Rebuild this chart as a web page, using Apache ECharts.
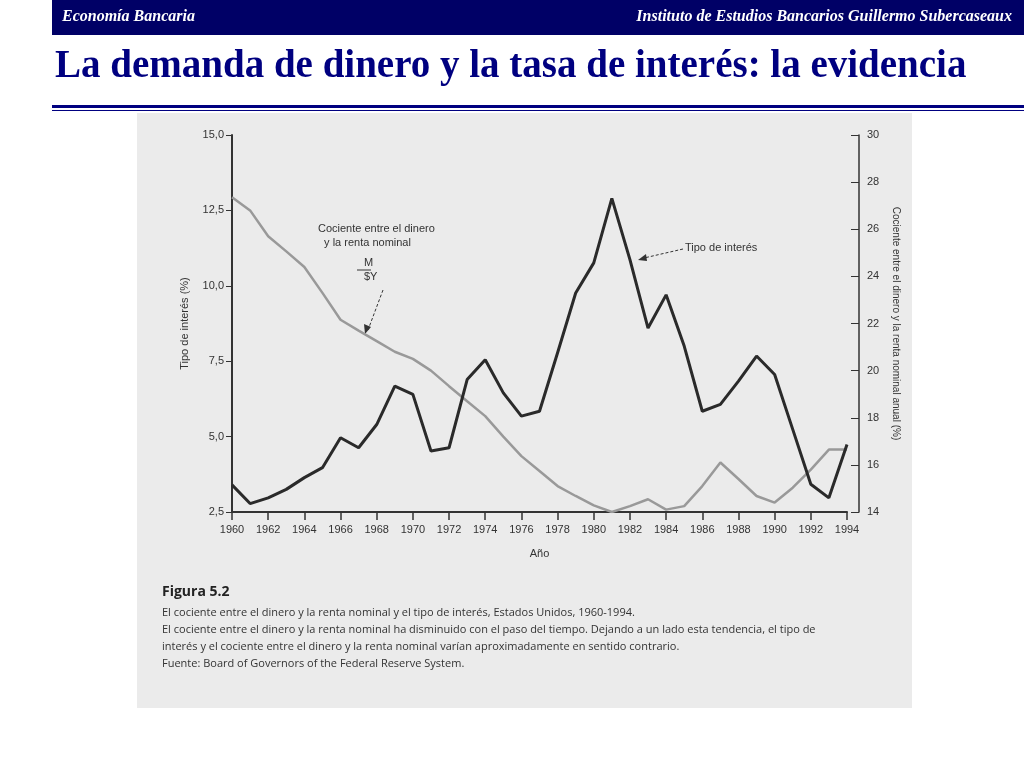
<!DOCTYPE html>
<html><head><meta charset="utf-8">
<script src="https://cdn.jsdelivr.net/npm/echarts@6/dist/echarts.min.js"></script>
<style>html,body{margin:0;padding:0;background:#fff}#c{width:1024px;height:768px}</style>
</head><body><div id="c"></div>
<script>
const years = [];
for (let y = 1960; y <= 1994; y++) years.push(String(y));
const interestRate = [3.4,2.78,2.97,3.25,3.64,3.97,4.96,4.63,5.4,6.67,6.4,4.52,4.63,6.89,7.55,6.45,5.68,5.84,7.78,9.76,10.76,12.9,10.87,8.6,9.7,8.0,5.84,6.07,6.84,7.67,7.06,5.24,3.42,2.97,4.74];
const moneyIncomeRatio = [27.36,26.8,25.7,25.06,24.4,23.3,22.16,21.7,21.25,20.8,20.5,20.0,19.34,18.7,18.07,17.2,16.37,15.74,15.1,14.68,14.28,14.0,14.25,14.54,14.1,14.25,15.1,16.1,15.4,14.68,14.4,15.03,15.8,16.65,16.65];
const leftTicks = ['2,5','5,0','7,5','10,0','12,5','15,0'];

const chart = echarts.init(document.getElementById('c'));
const navy = '#000080';
const txt = '#333';
chart.setOption({
  animation:false,
  graphic:[
    {type:'rect',shape:{x:137,y:113,width:775,height:595},style:{fill:'#ebebeb'},z:-10},
    {type:'rect',shape:{x:52,y:0,width:972,height:35},style:{fill:'#000066'}},
    {type:'text',left:62,top:9,style:{text:'Economía Bancaria',fill:'#fff',font:'italic bold 16px "Liberation Serif"'}},
    {type:'text',right:12,top:9,style:{text:'Instituto de Estudios Bancarios Guillermo Subercaseaux',fill:'#fff',font:'italic bold 16px "Liberation Serif"'}},
    {type:'text',left:55,top:47,style:{text:'La demanda de dinero y la tasa de interés: la evidencia',fill:navy,font:'bold 39px "Liberation Serif"'}},
    {type:'rect',shape:{x:52,y:105,width:972,height:3},style:{fill:navy}},
    {type:'rect',shape:{x:52,y:110,width:972,height:1},style:{fill:navy}},
    {type:'text',left:318,top:222,style:{text:'Cociente entre el dinero\n  y la renta nominal',fill:txt,font:'11px "Liberation Sans"',lineHeight:14}},
    {type:'text',left:364,top:256,style:{text:'M\n$Y',fill:txt,font:'11px "Liberation Sans"',align:'center',lineHeight:14}},
    {type:'line',shape:{x1:357,y1:270,x2:371,y2:270},style:{stroke:txt,lineWidth:1}},
    {type:'line',shape:{x1:383,y1:290,x2:368,y2:330},style:{stroke:txt,lineWidth:1,lineDash:[3,2]}},
    {type:'polygon',shape:{points:[[365,334],[364,324],[371,327]]},style:{fill:txt}},
    {type:'text',left:685,top:242,style:{text:'Tipo de interés',fill:txt,font:'11px "Liberation Sans"'}},
    {type:'line',shape:{x1:683,y1:249,x2:644,y2:258},style:{stroke:txt,lineWidth:1,lineDash:[3,2]}},
    {type:'polygon',shape:{points:[[638,260],[646,254],[647,261]]},style:{fill:txt}},
    {type:'text',left:162,top:585,style:{text:'Figura 5.2',fill:'#222',font:'bold 14px "Open Sans"'}},
    {type:'text',left:162,top:604,style:{text:'El cociente entre el dinero y la renta nominal y el tipo de interés, Estados Unidos, 1960-1994.\nEl cociente entre el dinero y la renta nominal ha disminuido con el paso del tiempo. Dejando a un lado esta tendencia, el tipo de\ninterés y el cociente entre el dinero y la renta nominal varían aproximadamente en sentido contrario.\nFuente: Board of Governors of the Federal Reserve System.',fill:'#333',font:'11px "Open Sans"',lineHeight:17}}
  ],
  grid:{left:232,right:177,top:135,bottom:256},
  xAxis:{type:'category',data:years,boundaryGap:false,
    name:'Año',nameLocation:'middle',nameGap:36,nameTextStyle:{color:txt,fontSize:11},
    axisLine:{lineStyle:{color:'#333',width:2}},
    axisTick:{alignWithLabel:true,length:8,lineStyle:{color:'#333',width:1.5}},
    axisLabel:{interval:1,color:txt,fontSize:11,margin:12}},
  yAxis:[
    {type:'value',min:2.5,max:15,interval:2.5,
      name:'Tipo de interés (%)',nameLocation:'middle',nameGap:42,nameTextStyle:{color:txt,fontSize:11},
      axisLine:{show:true,lineStyle:{color:'#333',width:2}},axisTick:{show:true,length:6,inside:false},
      axisLabel:{color:txt,fontSize:11,formatter:v=>leftTicks[Math.round((v-2.5)/2.5)]},splitLine:{show:false}},
    {type:'value',min:14,max:30,interval:2,position:'right',offset:12,
      name:'Cociente entre el dinero y la renta nominal anual (%)',nameLocation:'middle',nameGap:32,nameRotate:-90,nameTextStyle:{color:txt,fontSize:10},
      axisLine:{show:true,lineStyle:{color:'#333',width:1.5}},axisTick:{show:true,length:8,inside:true},
      axisLabel:{color:txt,fontSize:11},splitLine:{show:false}}
  ],
  series:[
    {type:'line',data:moneyIncomeRatio,yAxisIndex:1,symbol:'none',lineStyle:{color:'#999',width:2.5},z:2},
    {type:'line',data:interestRate,yAxisIndex:0,symbol:'none',lineStyle:{color:'#2a2a2a',width:3},z:3}
  ]
});
</script></body></html>
